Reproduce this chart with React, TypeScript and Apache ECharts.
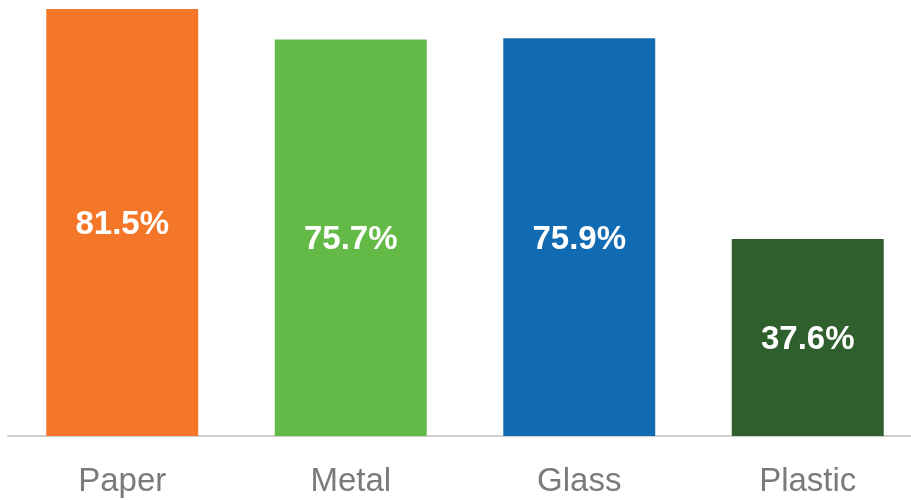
import React, { useEffect, useRef } from "react";
import * as echarts from "echarts";

const categories = ["Paper", "Metal", "Glass", "Plastic"];
const values = [81.5, 75.7, 75.9, 37.6];
const colors = ["#F47629", "#63BA47", "#116BB3", "#2E5F2D"];

export default function App() {
  const ref = useRef<HTMLDivElement>(null);
  useEffect(() => {
    document.body.style.margin = "0";
    document.documentElement.style.overflow = "hidden";
    document.body.style.overflow = "hidden";
    const chart = echarts.init(ref.current!, null, { renderer: "svg" });
    chart.setOption({
      animation: false,
      grid: { left: 8, right: 0, top: 9, bottom: 64, containLabel: false },
      xAxis: {
        type: "category",
        data: categories,
        axisLine: { show: true, lineStyle: { color: "#cfcfcf", width: 2 } },
        axisTick: { show: false },
        axisLabel: {
          color: "#7a7a7a",
          fontSize: 33,
          fontFamily: "Liberation Sans, Arial, sans-serif",
          margin: 27,
        },
      },
      yAxis: {
        type: "value",
        min: 0,
        max: 81.5,
        show: false,
        splitLine: { show: false },
      },
      series: [
        {
          type: "bar",
          barWidth: "66.5%",
          data: values.map((v, i) => ({ value: v, itemStyle: { color: colors[i] } })),
          label: {
            show: true,
            position: "inside",
            color: "#ffffff",
            fontWeight: "bold",
            fontSize: 33,
            fontFamily: "Liberation Sans, Arial, sans-serif",
            formatter: (p: any) => p.value.toFixed(1) + "%",
          },
        },
      ],
    });
    return () => chart.dispose();
  }, []);
  return <div ref={ref} style={{ position: "fixed", left: 0, top: 0, width: 922, height: 500 }} />;
}
